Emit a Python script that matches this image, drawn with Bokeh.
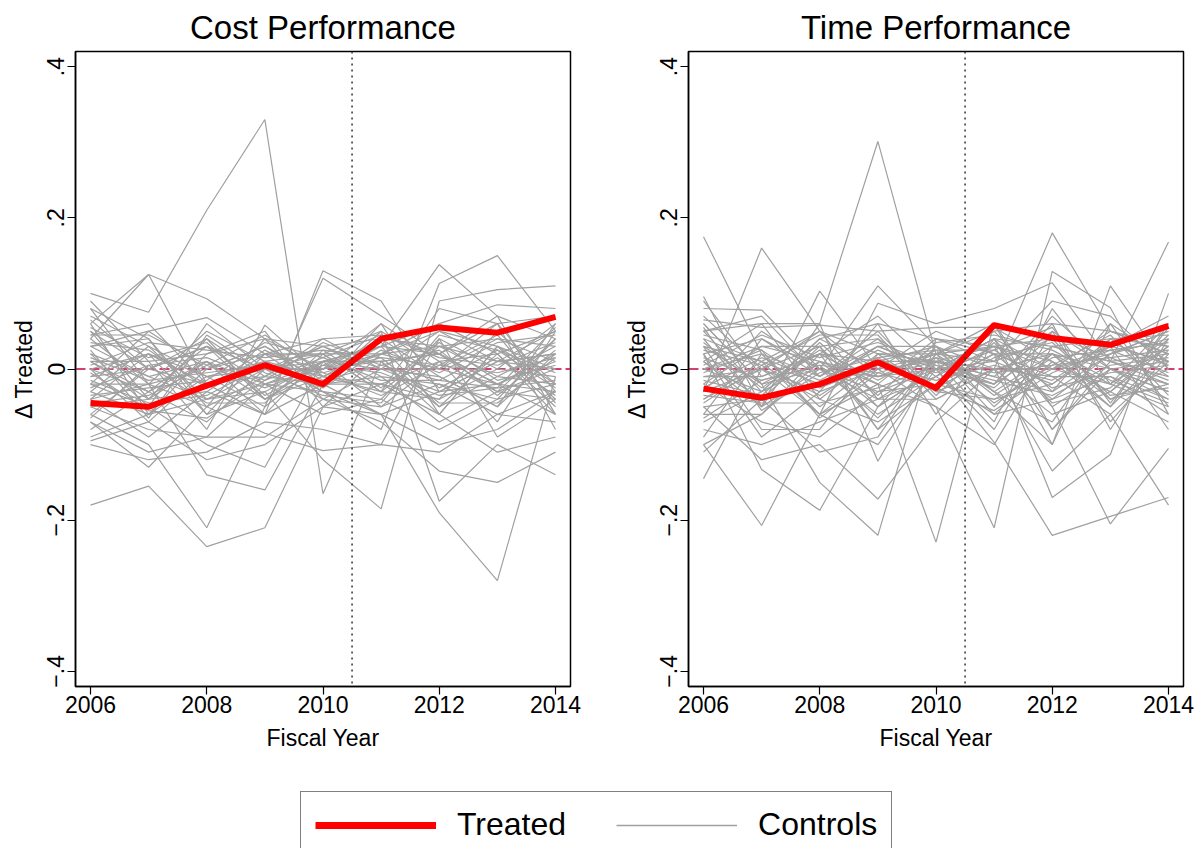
from bokeh.plotting import figure
from bokeh.models import Span, Legend, LegendItem, Range1d
from bokeh.layouts import column, row
from bokeh.embed import file_html
from bokeh.resources import INLINE

# ---- data ----
years = [2006, 2007, 2008, 2009, 2010, 2011, 2012, 2013, 2014]

cost_treated = [-0.045, -0.050, -0.022, 0.005, -0.020, 0.040, 0.055, 0.048, 0.069]
time_treated = [-0.026, -0.038, -0.020, 0.009, -0.025, 0.058, 0.041, 0.032, 0.057]

cost_controls = [
    [0.100, 0.075, 0.210, 0.330, -0.165, 0.010, 0.020, -0.030, 0.000],
    [-0.180, -0.155, -0.235, -0.210, -0.050, -0.060, -0.100, -0.080, -0.030],
    [0.060, 0.125, 0.093, 0.040, 0.000, 0.030, -0.050, 0.020, -0.060],
    [0.040, 0.125, -0.020, -0.060, 0.130, 0.090, -0.030, 0.010, 0.050],
    [-0.060, -0.100, -0.210, -0.050, 0.120, 0.070, 0.020, -0.020, 0.020],
    [0.080, -0.020, -0.140, -0.160, -0.020, -0.060, -0.190, -0.280, -0.010],
    [-0.020, -0.050, -0.100, -0.130, 0.010, 0.030, 0.138, 0.070, -0.060],
    [0.010, -0.030, 0.030, -0.020, -0.030, -0.080, 0.113, 0.150, 0.050],
    [-0.040, 0.020, -0.060, -0.030, -0.120, -0.185, 0.090, 0.105, 0.110],
    [0.050, 0.000, 0.040, -0.010, -0.020, 0.050, -0.175, -0.100, -0.140],
    [-0.090, -0.060, -0.040, 0.000, -0.040, -0.070, -0.135, -0.150, -0.110],
    [0.090, 0.010, -0.080, 0.058, -0.010, 0.020, 0.060, 0.085, 0.080],
    [-0.100, -0.120, -0.110, -0.070, -0.080, -0.100, 0.040, -0.090, -0.040],
    [-0.070, -0.130, -0.050, -0.085, -0.108, -0.100, -0.110, -0.060, -0.030],
    [0.030, 0.050, 0.068, 0.020, 0.040, 0.045, 0.020, 0.060, 0.070],
    [-0.050, -0.080, -0.090, -0.090, -0.040, 0.000, 0.050, 0.030, -0.020],
    [0.070, 0.030, -0.010, 0.000, 0.030, -0.010, -0.020, -0.040, 0.040],
    [-0.030, -0.060, 0.020, 0.050, -0.050, 0.020, 0.000, 0.060, -0.080],
    [0.020, -0.010, 0.010, -0.020, 0.010, 0.000, -0.030, 0.010, 0.020],
    [-0.010, 0.020, -0.020, 0.010, -0.010, 0.030, 0.020, -0.020, -0.030],
    [0.050, -0.040, -0.030, 0.020, 0.020, -0.030, 0.030, 0.040, 0.010],
    [-0.060, 0.000, 0.030, -0.040, 0.000, 0.010, -0.050, -0.010, 0.030],
    [0.000, -0.070, 0.000, 0.030, -0.020, -0.020, 0.010, 0.020, -0.050],
    [0.030, 0.040, -0.050, -0.010, 0.030, 0.040, -0.010, -0.050, 0.060],
    [-0.020, -0.020, 0.050, 0.010, -0.030, -0.040, 0.040, 0.000, -0.010],
    [0.060, -0.060, -0.010, -0.050, 0.010, 0.010, -0.060, 0.030, 0.000],
    [-0.080, -0.030, -0.070, 0.000, 0.000, 0.060, 0.010, -0.030, 0.040],
    [0.010, 0.010, 0.020, 0.040, -0.040, -0.050, -0.020, -0.060, -0.070],
    [-0.040, -0.090, -0.030, -0.060, 0.020, 0.020, 0.030, 0.010, 0.020],
    [0.040, -0.020, 0.000, 0.030, -0.010, -0.020, -0.040, 0.050, -0.020],
    [-0.030, 0.030, -0.040, -0.030, 0.010, 0.030, 0.060, 0.020, 0.050],
    [0.020, -0.050, 0.060, 0.000, -0.020, -0.010, -0.070, -0.030, -0.040],
    [-0.010, 0.000, -0.020, -0.010, 0.040, 0.000, 0.000, 0.040, 0.030],
    [0.080, 0.040, -0.060, 0.020, 0.000, 0.040, 0.030, -0.010, -0.020],
    [-0.050, -0.040, 0.010, -0.040, -0.010, -0.030, -0.040, 0.000, 0.060],
    [0.000, 0.020, -0.010, 0.010, 0.020, 0.050, 0.000, -0.020, 0.010],
    [-0.070, -0.110, -0.090, -0.020, -0.060, -0.040, -0.080, -0.040, -0.020],
    [0.010, -0.040, 0.040, -0.040, 0.010, 0.010, 0.020, 0.070, 0.040],
    [-0.020, 0.050, 0.000, 0.020, -0.030, -0.060, -0.030, -0.020, -0.060],
    [0.030, -0.010, -0.040, -0.020, 0.000, 0.020, 0.050, 0.010, 0.000],
    [-0.095, -0.070, -0.120, -0.100, -0.050, -0.020, -0.060, -0.110, -0.090],
    [0.065, 0.000, 0.030, 0.000, 0.020, -0.030, 0.080, 0.060, -0.030],
    [-0.040, -0.020, -0.050, 0.040, 0.030, 0.000, -0.010, -0.050, 0.020],
    [0.000, -0.030, 0.010, -0.060, -0.020, 0.060, -0.060, 0.030, -0.040],
    [0.045, 0.060, -0.020, 0.000, 0.010, -0.050, 0.010, -0.070, 0.050],
    [0.015, -0.015, -0.005, 0.005, -0.005, 0.015, 0.005, -0.005, 0.015],
    [-0.025, 0.005, 0.015, -0.015, 0.015, -0.015, -0.015, 0.025, -0.005],
    [0.035, 0.025, -0.025, 0.025, -0.015, 0.005, 0.025, -0.035, 0.025],
    [-0.045, -0.035, 0.005, -0.025, 0.005, 0.035, -0.025, 0.015, -0.035],
    [0.005, 0.035, 0.025, 0.015, 0.025, -0.025, 0.035, -0.015, 0.005],
    [-0.015, -0.045, -0.035, 0.005, -0.025, 0.025, -0.005, 0.035, 0.045],
    [0.055, 0.015, 0.035, -0.035, 0.005, -0.005, -0.035, -0.025, -0.015],
    [-0.035, -0.025, -0.015, 0.035, 0.015, 0.045, 0.015, 0.005, 0.035],
    [0.025, -0.065, 0.045, -0.005, -0.035, -0.045, 0.045, 0.025, -0.025],
    [-0.065, 0.005, -0.045, -0.045, 0.025, 0.015, -0.045, -0.045, 0.015],
    [0.045, 0.045, 0.005, 0.045, -0.005, -0.035, 0.005, 0.045, -0.045],
    [-0.005, -0.055, -0.065, -0.015, 0.035, 0.005, -0.015, -0.025, 0.055],
]

time_controls = [
    [0.010, -0.050, 0.060, 0.301, 0.020, -0.030, 0.020, 0.000, 0.010],
    [0.175, 0.020, -0.060, -0.100, 0.000, 0.040, 0.000, -0.020, 0.030],
    [-0.030, 0.160, 0.050, -0.040, 0.010, 0.000, 0.180, 0.050, 0.020],
    [0.096, -0.050, 0.103, 0.000, -0.050, -0.210, 0.129, 0.081, -0.060],
    [0.080, 0.078, 0.000, 0.110, 0.030, -0.030, -0.100, 0.110, 0.000],
    [-0.145, 0.000, -0.060, 0.087, 0.060, 0.080, 0.114, 0.010, 0.168],
    [-0.100, -0.207, -0.060, -0.020, -0.229, 0.060, -0.050, -0.205, -0.105],
    [0.020, -0.133, -0.187, -0.050, 0.000, -0.097, -0.220, -0.195, -0.170],
    [0.060, -0.020, -0.150, -0.220, 0.040, 0.020, -0.170, -0.113, 0.100],
    [-0.050, -0.120, -0.100, -0.172, -0.070, 0.000, -0.135, -0.060, -0.180],
    [0.050, 0.060, 0.060, -0.122, 0.010, -0.070, 0.080, -0.020, 0.060],
    [-0.070, -0.030, 0.040, 0.060, -0.060, 0.040, -0.100, 0.060, -0.050],
    [0.030, -0.080, -0.080, 0.020, 0.020, 0.050, 0.060, -0.080, 0.040],
    [-0.100, -0.060, 0.020, -0.080, -0.020, -0.040, 0.000, 0.030, -0.080],
    [0.040, 0.010, -0.020, 0.030, 0.000, -0.020, 0.030, 0.010, 0.020],
    [-0.020, 0.030, 0.010, -0.010, 0.020, 0.010, -0.020, 0.040, -0.010],
    [0.010, -0.040, 0.030, 0.040, -0.010, 0.030, 0.010, -0.030, 0.030],
    [-0.040, 0.000, -0.030, 0.000, 0.010, -0.010, 0.050, 0.000, -0.030],
    [0.060, -0.020, 0.000, -0.030, -0.020, 0.020, -0.040, 0.020, 0.050],
    [0.000, 0.020, -0.050, 0.010, 0.030, -0.050, 0.020, -0.040, 0.000],
    [-0.060, -0.060, 0.010, -0.050, 0.000, 0.010, 0.040, 0.030, 0.010],
    [0.020, 0.040, -0.010, 0.050, -0.030, 0.000, -0.010, -0.010, -0.040],
    [-0.010, -0.010, 0.020, -0.020, 0.040, 0.030, 0.000, 0.050, 0.020],
    [0.070, 0.000, -0.040, 0.020, 0.010, -0.020, 0.070, 0.000, -0.020],
    [-0.030, 0.050, 0.000, -0.060, -0.010, 0.050, -0.030, 0.020, 0.040],
    [0.050, -0.030, 0.040, 0.000, 0.020, -0.060, 0.010, -0.050, 0.060],
    [-0.080, -0.100, -0.070, -0.040, -0.040, 0.000, -0.060, -0.030, -0.070],
    [0.030, 0.010, 0.050, -0.010, 0.000, 0.040, 0.030, 0.010, -0.010],
    [-0.050, -0.040, -0.020, 0.030, 0.030, -0.030, -0.070, 0.040, 0.030],
    [0.010, 0.060, -0.040, -0.070, -0.020, 0.020, 0.020, -0.020, -0.050],
    [0.090, -0.010, 0.020, 0.010, 0.010, -0.010, -0.030, 0.060, 0.010],
    [-0.020, -0.070, -0.090, -0.030, 0.000, -0.080, 0.050, -0.070, 0.020],
    [0.000, 0.030, 0.030, -0.080, 0.020, 0.060, -0.080, 0.000, -0.030],
    [-0.090, 0.020, -0.010, 0.040, -0.040, 0.000, 0.000, 0.020, 0.050],
    [0.040, -0.050, 0.000, -0.010, 0.010, 0.030, 0.040, -0.040, -0.020],
    [-0.010, 0.000, 0.050, 0.020, -0.030, -0.040, -0.020, 0.030, 0.070],
    [0.020, -0.090, -0.030, 0.060, 0.040, 0.010, 0.090, 0.070, 0.000],
    [-0.060, 0.040, 0.000, -0.040, -0.010, -0.060, -0.040, -0.010, -0.060],
    [0.065, 0.055, 0.058, 0.050, 0.055, 0.055, 0.010, -0.030, 0.040],
    [-0.110, -0.040, -0.110, -0.090, 0.020, 0.030, -0.080, 0.010, -0.020],
    [0.030, -0.020, 0.020, 0.070, 0.000, -0.020, 0.060, 0.050, 0.030],
    [-0.040, 0.010, -0.060, 0.000, 0.050, 0.020, -0.010, -0.060, 0.010],
    [0.000, -0.030, 0.010, -0.020, -0.050, -0.100, 0.030, 0.040, 0.045],
    [0.050, 0.070, -0.010, 0.030, 0.000, 0.040, -0.050, 0.000, -0.040],
    [-0.030, 0.000, 0.030, -0.050, 0.030, 0.000, 0.020, -0.050, 0.025],
    [0.015, -0.015, 0.005, -0.005, 0.015, -0.005, 0.005, 0.015, -0.015],
    [-0.025, 0.015, -0.015, 0.025, -0.005, 0.025, -0.025, -0.005, 0.005],
    [0.035, -0.025, 0.025, -0.015, 0.025, -0.035, 0.015, 0.025, 0.035],
    [-0.045, 0.005, -0.035, 0.015, -0.025, 0.015, 0.035, -0.035, -0.025],
    [0.005, 0.045, 0.015, 0.035, 0.005, -0.015, -0.035, 0.005, 0.015],
    [-0.015, -0.035, 0.035, -0.035, 0.035, 0.045, 0.025, -0.015, -0.045],
    [0.045, 0.025, -0.025, 0.005, -0.015, 0.005, -0.015, 0.035, 0.005],
    [-0.035, -0.045, -0.045, -0.025, 0.005, -0.025, 0.045, 0.015, 0.025],
    [0.025, 0.005, 0.045, 0.045, -0.035, 0.035, -0.045, -0.025, 0.045],
    [-0.065, -0.015, 0.005, -0.065, 0.015, -0.045, 0.005, 0.045, -0.035],
    [0.055, -0.055, -0.005, 0.015, 0.025, 0.025, 0.055, -0.045, 0.055],
    [-0.005, 0.025, -0.065, -0.005, -0.025, -0.055, -0.005, 0.025, -0.005],
]

x_ticks = [2006, 2008, 2010, 2012, 2014]
y_ticks = [-0.4, -0.2, 0, 0.2, 0.4]
y_tick_labels = {-0.4: "\u2212.4", -0.2: "\u2212.2", 0: "0", 0.2: ".2", 0.4: ".4"}
treatment_year = 2010.5

FONT = "Liberation Sans"
GRAY = "#a0a0a0"
RED = "#ff0000"


def make_panel(title, treated, controls, width, border_right):
    p = figure(width=width, height=760, output_backend="svg", toolbar_location=None,
               x_range=Range1d(2005.742, 2014.258), y_range=Range1d(-0.42, 0.42),
               min_border_left=75, min_border_right=border_right,
               min_border_top=47, min_border_bottom=74)

    p.title.text = title
    p.title.align = "center"
    p.title.text_font = FONT
    p.title.text_font_size = "33px"
    p.title.text_font_style = "normal"
    p.title.text_color = "black"
    p.title.standoff = 12

    # zero line sits under the control lines
    p.add_layout(Span(location=0, dimension="width", line_color="#c8003c",
                      line_dash="10 4", line_width=1.5, level="underlay"))

    p.multi_line(xs=[years] * len(controls), ys=controls, line_color=GRAY, line_width=1.2)
    p.add_layout(Span(location=treatment_year, dimension="height", line_color="#333333",
                      line_dash="2 4", line_width=1.5))
    p.line(years, treated, line_color=RED, line_width=6, line_join="round")

    p.xaxis.ticker = x_ticks
    p.yaxis.ticker = y_ticks
    p.yaxis.major_label_overrides = y_tick_labels
    p.yaxis.major_label_orientation = "parallel"
    p.xaxis.axis_label = "Fiscal Year"
    p.yaxis.axis_label = "\u0394 Treated"

    p.axis.minor_tick_line_color = None
    p.axis.major_tick_in = 0
    p.axis.major_tick_out = 8
    p.axis.axis_line_width = 1.5
    p.axis.major_tick_line_width = 1.2
    p.axis.major_label_text_font = FONT
    p.axis.major_label_text_font_size = "23px"
    p.axis.major_label_text_color = "black"
    p.axis.axis_label_text_font = FONT
    p.axis.axis_label_text_font_size = "23px"
    p.axis.axis_label_text_font_style = "normal"
    p.axis.axis_label_text_color = "black"
    p.xaxis.major_label_standoff = 1
    p.xaxis.axis_label_standoff = 9
    p.yaxis.major_label_standoff = 3
    p.yaxis.axis_label_standoff = 8

    p.grid.visible = False
    p.outline_line_color = "black"
    p.outline_line_width = 1.5
    return p


p1 = make_panel("Cost Performance", cost_treated, cost_controls, 613, 43)
p2 = make_panel("Time Performance", time_treated, time_controls, 587, 17)

leg = figure(width=1200, height=88, output_backend="svg", toolbar_location=None,
             x_range=Range1d(0, 1), y_range=Range1d(0, 1), x_axis_type=None, y_axis_type=None,
             min_border=0, outline_line_color=None)
leg.grid.visible = False
# keys only: the legend needs a renderer to take its line style from
r_treated = leg.line(x=[float("nan")], y=[float("nan")], line_color=RED, line_width=7)
r_controls = leg.line(x=[float("nan")], y=[float("nan")], line_color=GRAY, line_width=1.5)
legend = Legend(items=[LegendItem(label="Treated", renderers=[r_treated]),
                       LegendItem(label="Controls", renderers=[r_controls])],
                orientation="horizontal", location=(300, -10),
                label_text_font=FONT, label_text_font_size="32px", label_text_color="black",
                glyph_width=121, glyph_height=32, label_standoff=21, spacing=50,
                padding=14, margin=0, border_line_color="black", border_line_width=1.5)
leg.add_layout(legend)

layout = column(row(p1, p2), leg)
open("out.html", "w").write(file_html(layout, INLINE))
